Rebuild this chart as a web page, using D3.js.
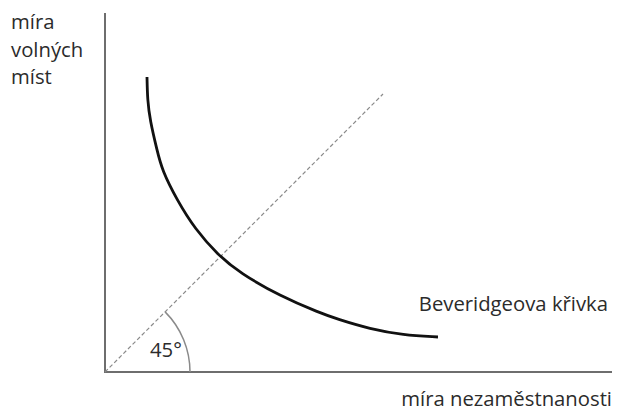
<!DOCTYPE html>
<html><head><meta charset="utf-8">
<script src="https://cdn.jsdelivr.net/npm/d3@7"></script>
<style>body{margin:0;background:#fff}svg{display:block}text{font-family:"Open Sans",sans-serif;fill:#2b2b2b}</style>
</head><body>
<script>
// Beveridge curve sample points (unemployment rate u, vacancy rate v), in chart units
const curveU = [42, 42.5, 45, 52, 57, 72, 90, 113, 135, 175, 215, 232, 265, 298, 333];
const curveV = [295, 272, 252, 222, 202, 172, 143, 117, 99, 76, 59, 53, 43, 37, 35];
// 45-degree reference line endpoints
const diagU = [0, 278];
const diagV = [0, 278];
const angleLabel = "45°";
const yLabelLines = ["míra", "volných", "míst"];
const xLabel = "míra nezaměstnanosti";
const curveLabel = "Beveridgeova křivka";

const W = 617, H = 411;
const ox = 105, oy = 372;
const fs = 20.3;
const svg = d3.select("body").append("svg").attr("width", W).attr("height", H);
const x = d3.scaleLinear().domain([0, 507]).range([ox, ox + 507]);
const y = d3.scaleLinear().domain([0, 359]).range([oy, oy - 359]);

// axes
svg.append("line").attr("x1", x(0)).attr("x2", x(0)).attr("y1", y(0)).attr("y2", y(359))
  .attr("stroke", "#6e6e6e").attr("stroke-width", 2);
svg.append("line").attr("x1", x(0) - 1).attr("x2", x(507)).attr("y1", y(0)).attr("y2", y(0))
  .attr("stroke", "#6e6e6e").attr("stroke-width", 2);

// diagonal dashed
svg.append("line").attr("x1", x(diagU[0])).attr("y1", y(diagV[0])).attr("x2", x(diagU[1])).attr("y2", y(diagV[1]))
  .attr("stroke", "#8a8a8a").attr("stroke-width", 1.2).attr("stroke-dasharray", "4,2.5");

// angle arc
const r = x(85) - x(0);
const arc = d3.arc().innerRadius(r).outerRadius(r).startAngle(Math.PI / 2).endAngle(Math.PI / 4);
svg.append("path").attr("d", arc()).attr("transform", `translate(${x(0)},${y(0)})`)
  .attr("fill", "none").attr("stroke", "#8a8a8a").attr("stroke-width", 1.5);

// curve
const pts = curveU.map((u, i) => [x(u), y(curveV[i])]);
svg.append("path").attr("d", d3.line().curve(d3.curveBasis)(pts))
  .attr("fill", "none").attr("stroke", "#111").attr("stroke-width", 2.8).attr("stroke-linecap", "butt");

// labels
svg.append("text").attr("x", 150).attr("y", 357).attr("font-size", fs).text(angleLabel);
yLabelLines.forEach((t, i) => svg.append("text").attr("x", 11).attr("y", 29 + i * 27.5).attr("font-size", fs).text(t));
svg.append("text").attr("x", 612).attr("y", 406).attr("text-anchor", "end").attr("font-size", fs).text(xLabel);
svg.append("text").attr("x", 608).attr("y", 311).attr("text-anchor", "end").attr("font-size", fs).text(curveLabel);
</script>
</body></html>
